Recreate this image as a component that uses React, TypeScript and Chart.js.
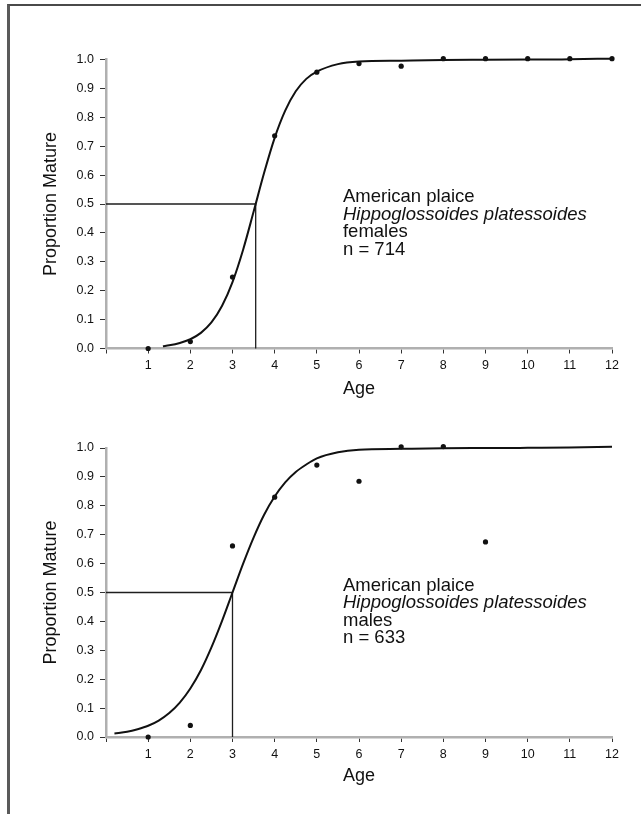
import React, { useEffect, useRef } from 'react';
import { Chart, registerables } from 'chart.js';

Chart.register(...registerables);

// ---------- data ----------
const FEMALE_AGES = [1, 2, 3, 4, 5, 6, 7, 8, 9, 10, 11, 12];
const FEMALE_PROP = [0.0, 0.024, 0.247, 0.736, 0.956, 0.986, 0.977, 1.003, 1.003, 1.003, 1.003, 1.003];

const FEMALE_CURVE_AGE = [1.35, 1.5, 1.75, 2, 2.25, 2.5, 2.75, 3, 3.25, 3.5, 3.75, 4, 4.25, 4.5, 4.75, 5, 5.5, 6, 7, 8, 9, 10, 11, 12];
const FEMALE_CURVE_PROP = [0.008, 0.011, 0.019, 0.032, 0.054, 0.09, 0.147, 0.23, 0.341, 0.473, 0.608, 0.729, 0.823, 0.89, 0.933, 0.958, 0.984, 0.993, 0.996, 0.998, 0.999, 1.0, 1.001, 1.003];
const FEMALE_A50 = 3.55;

const MALE_AGES = [1, 2, 3, 4, 5, 6, 7, 8, 9];
const MALE_PROP = [0.0, 0.04, 0.661, 0.83, 0.941, 0.885, 1.004, 1.005, 0.675];

const MALE_CURVE_AGE = [0.2, 0.5, 0.75, 1, 1.25, 1.5, 1.75, 2, 2.25, 2.5, 2.75, 3, 3.25, 3.5, 3.75, 4, 4.25, 4.5, 4.75, 5, 5.5, 6, 7, 8, 9, 10, 11, 12];
const MALE_CURVE_PROP = [0.012, 0.018, 0.027, 0.039, 0.057, 0.083, 0.119, 0.168, 0.231, 0.31, 0.401, 0.5, 0.599, 0.69, 0.769, 0.832, 0.881, 0.917, 0.943, 0.964, 0.985, 0.994, 0.997, 0.999, 1.0, 1.001, 1.002, 1.004];
const MALE_A50 = 3.0;

const X_TICKS = [0, 1, 2, 3, 4, 5, 6, 7, 8, 9, 10, 11, 12];
const Y_TICKS = [0, 0.1, 0.2, 0.3, 0.4, 0.5, 0.6, 0.7, 0.8, 0.9, 1.0];

const FEMALE_NOTE = ['American plaice', 'Hippoglossoides platessoides', 'females', 'n = 714'];
const MALE_NOTE = ['American plaice', 'Hippoglossoides platessoides', 'males', 'n = 633'];

const X_TITLE = 'Age';
const Y_TITLE = 'Proportion Mature';

// ---------- styling ----------
const FONT = "'Liberation Sans', Arial, Helvetica, sans-serif";
const INK = '#111';

const speciesNote = {
  id: 'speciesNote',
  afterDatasetsDraw(chart: any, _args: any, opts: any) {
    const { ctx, scales } = chart;
    const px = scales.x.getPixelForValue(opts.x);
    const py = scales.y.getPixelForValue(opts.y);
    ctx.save();
    ctx.fillStyle = INK;
    ctx.textAlign = 'left';
    ctx.textBaseline = 'middle';
    (opts.lines as string[]).forEach((line, i) => {
      const italic = i === 1;
      ctx.font = `${italic ? 'italic ' : ''}${opts.size}px ${FONT}`;
      ctx.fillText(line, px, py + i * opts.gap);
    });
    ctx.restore();
  },
};

type PanelProps = {
  top: number;
  height: number;
  padTop: number;
  padBottom: number;
  xAxisHeight: number;
  ages: number[];
  props: number[];
  curveAges: number[];
  curveProps: number[];
  a50: number;
  note: string[];
};

function Panel(p: PanelProps) {
  const ref = useRef<HTMLCanvasElement | null>(null);
  useEffect(() => {
    if (!ref.current) return;
    const chart = new Chart(ref.current, {
      type: 'scatter',
      data: {
        datasets: [
          {
            data: p.ages.map((a, i) => ({ x: a, y: p.props[i] })),
            showLine: false,
            pointRadius: 2.6,
            pointBackgroundColor: '#111',
            pointBorderWidth: 0,
            clip: false,
          } as any,
          {
            data: p.curveAges.map((a, i) => ({ x: a, y: p.curveProps[i] })),
            showLine: true,
            borderColor: '#111',
            borderWidth: 2,
            pointRadius: 0,
            cubicInterpolationMode: 'monotone',
            clip: false,
          } as any,
          {
            data: [
              { x: 0, y: 0.5 },
              { x: p.a50, y: 0.5 },
              { x: p.a50, y: 0 },
            ],
            showLine: true,
            borderColor: '#1e1e1e',
            borderWidth: 1.3,
            pointRadius: 0,
            tension: 0,
            clip: false,
          } as any,
        ],
      },
      options: {
        animation: false,
        responsive: false,
        maintainAspectRatio: false,
        events: [],
        layout: { padding: { top: p.padTop, left: 40, right: 29, bottom: p.padBottom } },
        plugins: {
          legend: { display: false },
          tooltip: { enabled: false },
          speciesNote: { x: 5.62, y: 0.524, gap: 17.6, size: 18.5, lines: p.note },
        } as any,
        scales: {
          x: {
            type: 'linear',
            min: 0,
            max: 12,
            afterBuildTicks: (s: any) => {
              s.ticks = X_TICKS.map((v) => ({ value: v }));
            },
            afterFit: (s: any) => {
              s.height = p.xAxisHeight;
            },
            ticks: {
              callback: (v: any) => (Number(v) === 0 ? '' : String(v)),
              font: { family: FONT, size: 12.5 },
              color: INK,
              padding: 5,
              maxRotation: 0,
              autoSkip: false,
            },
            grid: { drawOnChartArea: false, drawTicks: true, tickLength: 5, color: '#333', lineWidth: 1 },
            border: { display: true, color: '#b0b0b0', width: 2.5 },
            title: { display: true, text: X_TITLE, font: { family: FONT, size: 18 }, color: INK, padding: 0 },
          },
          y: {
            type: 'linear',
            min: 0,
            max: 1,
            afterBuildTicks: (s: any) => {
              s.ticks = Y_TICKS.map((v) => ({ value: v }));
            },
            afterFit: (s: any) => {
              s.width = 66;
            },
            ticks: {
              callback: (v: any) => Number(v).toFixed(1),
              font: { family: FONT, size: 12.5 },
              color: INK,
              padding: 6,
            },
            grid: { drawOnChartArea: false, drawTicks: true, tickLength: 6, color: '#333', lineWidth: 1 },
            border: { display: true, color: '#b0b0b0', width: 2.5 },
            title: { display: true, text: Y_TITLE, font: { family: FONT, size: 18 }, color: INK, padding: 0 },
          },
        },
      } as any,
      plugins: [speciesNote],
    });
    return () => chart.destroy();
  }, []);
  return (
    <canvas
      ref={ref}
      width={641}
      height={p.height}
      style={{ position: 'absolute', left: 0, top: p.top, width: 641, height: p.height, display: 'block' }}
    />
  );
}

export default function App() {
  return (
    <div style={{ position: 'absolute', left: 0, top: 0, width: 641, height: 814, background: '#fff', overflow: 'hidden' }}>
      <div
        style={{
          position: 'absolute',
          left: 7,
          top: 4,
          width: 640,
          height: 820,
          borderTop: '2px solid #4a4a4a',
          borderLeft: '3px solid #5a5a5a',
          boxSizing: 'border-box',
        }}
      />
      <Panel
        top={0}
        height={405}
        padTop={59.5}
        padBottom={5.5}
        xAxisHeight={51}
        ages={FEMALE_AGES}
        props={FEMALE_PROP}
        curveAges={FEMALE_CURVE_AGE}
        curveProps={FEMALE_CURVE_PROP}
        a50={FEMALE_A50}
        note={FEMALE_NOTE}
      />
      <Panel
        top={405}
        height={409}
        padTop={43}
        padBottom={27}
        xAxisHeight={50}
        ages={MALE_AGES}
        props={MALE_PROP}
        curveAges={MALE_CURVE_AGE}
        curveProps={MALE_CURVE_PROP}
        a50={MALE_A50}
        note={MALE_NOTE}
      />
    </div>
  );
}
